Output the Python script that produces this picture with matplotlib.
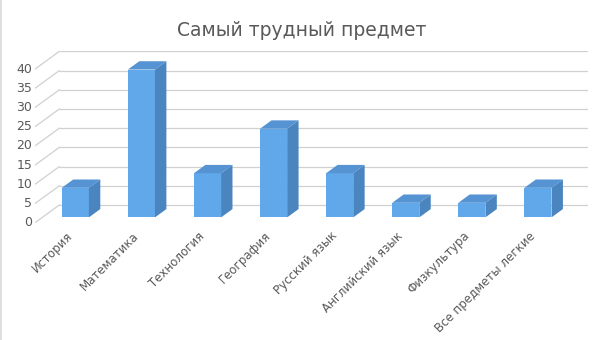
import numpy as np
import matplotlib
matplotlib.use("Agg")
import matplotlib.pyplot as plt
from matplotlib.lines import Line2D
from matplotlib.patches import Polygon
from matplotlib.transforms import offset_copy

categories = [
    "История",
    "Математика",
    "Технология",
    "География",
    "Русский язык",
    "Английский язык",
    "Физкультура",
    "Все предметы легкие",
]
values = [7.7, 38.5, 11.5, 23.1, 11.5, 3.8, 3.8, 7.7]
y_ticks = [0, 5, 10, 15, 20, 25, 30, 35, 40]

title = "Самый трудный предмет"

# -------------------------
# Layout (pixels on a 605x340 canvas)
# -------------------------
W, H = 605, 340
front_left, back_right = 35, 588
front_zero = 222.7
px_per_unit = 19.2 / 5
depth_px = (24.3, 17.7)

n = len(categories)
y_top = 40
x_per_px = 1.0 / ((back_right - front_left - depth_px[0]) / n)
ddx = depth_px[0] * x_per_px
ddy = depth_px[1] / px_per_unit
back_top = front_zero - depth_px[1] - y_top * px_per_unit

bar_w = 0.41
f_front, f_back = 0.30, 0.77

front_col = "#61a8ea"
top_col = "#5693d3"
side_col = "#4b85bf"
grid_col = "#d0d0d0"
text_col = "#595959"

fig = plt.figure(figsize=(W / 100, H / 100), dpi=100)
ax = fig.add_axes([
    front_left / W,
    (H - front_zero) / H,
    (back_right - front_left) / W,
    (front_zero - back_top) / H,
])
ax.set_xlim(-0.5, n - 0.5 + ddx)
ax.set_ylim(0, y_top + ddy)
ax.set_axis_off()

# thin frame line on the left edge only
fig.lines.append(Line2D([0.8 / W, 0.8 / W], [0, 1], transform=fig.transFigure,
                        color="#d9d9d9", linewidth=1.2))

# -------------------------
# Walls / gridlines
# -------------------------
for v in y_ticks:
    ax.plot([-0.5 + ddx, n - 0.5 + ddx], [v + ddy, v + ddy],
            color=grid_col, linewidth=0.9, zorder=1, solid_capstyle="butt")
    ax.plot([-0.5, -0.5 + ddx], [v, v + ddy],
            color=grid_col, linewidth=0.9, zorder=1)
    ax.text(-0.5 - 0.04, v, str(v), ha="right", va="center",
            fontsize=9, color=text_col, clip_on=False)

# -------------------------
# Bars
# -------------------------
x0 = np.arange(n) + f_front * ddx
y0 = f_front * ddy
dfx = (f_back - f_front) * ddx
dfy = (f_back - f_front) * ddy

ax.bar(x0, values, width=bar_w, bottom=y0, color=front_col,
       linewidth=0, zorder=3)

for xc, v in zip(x0, values):
    l, r = xc - bar_w / 2, xc + bar_w / 2
    top = y0 + v
    ax.add_patch(Polygon([(l, top), (r, top), (r + dfx, top + dfy), (l + dfx, top + dfy)],
                         closed=True, facecolor=top_col, edgecolor="none", zorder=3))
    ax.add_patch(Polygon([(r, y0), (r + dfx, y0 + dfy), (r + dfx, top + dfy), (r, top)],
                         closed=True, facecolor=side_col, edgecolor="none", zorder=3))

# -------------------------
# Category labels
# -------------------------
label_tr = offset_copy(ax.transData, fig=fig, x=-9, y=-12, units="dots")
for xc, name in zip(x0, categories):
    ax.text(xc, y0, name, transform=label_tr, rotation=45,
            rotation_mode="anchor", ha="right", va="top",
            fontsize=8.5, color=text_col, clip_on=False)

fig.text(302 / W, 1 - 30 / H, title, ha="center", va="center",
         fontsize=13.5, color=text_col)

fig.savefig("out.png", dpi=100)
